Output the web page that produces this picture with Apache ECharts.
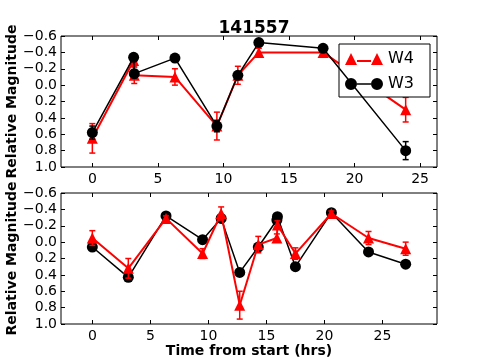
<!DOCTYPE html>
<html>
<head>
<meta charset="utf-8">
<script src="https://cdn.jsdelivr.net/npm/echarts@6/dist/echarts.min.js"></script>
<style>
  html, body { margin: 0; padding: 0; background: #fff; }
  #main { width: 485px; height: 360px; }
</style>
</head>
<body>
<div id="main"></div>
<script>
// top panel (hours from start, relative magnitudes)
var topHours = [0, 3.15, 3.2, 6.3, 9.5, 11.1, 12.7, 17.6, 23.9]
var topW4 = [0.65, -0.30, -0.12, -0.10, 0.50, -0.12, -0.40, -0.40, 0.30]
var topW4Err = [0.18, 0.07, 0.10, 0.10, 0.17, 0.11, 0.05, 0.06, 0.15]
var topW3 = [0.58, -0.34, -0.14, -0.33, 0.50, -0.12, -0.52, -0.45, 0.80]
var topW3Err = [0.08, 0.03, 0.05, 0.02, 0.07, 0.04, 0.02, 0.03, 0.11]

// bottom panel
var botHours = [0, 3.1, 6.35, 9.5, 11.1, 12.7, 14.3, 15.9, 15.95, 17.5, 20.6, 23.8, 27.0]
var botW4 = [-0.05, 0.32, -0.29, 0.14, -0.35, 0.77, 0.03, -0.05, -0.21, 0.14, -0.35, -0.05, 0.08]
var botW4Err = [0.09, 0.12, 0.03, 0.06, 0.08, 0.17, 0.10, 0.05, 0.05, 0.07, 0.03, 0.08, 0.08]
var botW3 = [0.06, 0.43, -0.32, -0.03, -0.29, 0.37, 0.06, -0.27, -0.31, 0.30, -0.36, 0.12, 0.27]
var botW3Err = [0.02, 0.02, 0.02, 0.02, 0.02, 0.02, 0.02, 0.02, 0.02, 0.02, 0.02, 0.02, 0.02]

var hourTicks = [0, 5, 10, 15, 20, 25]

var FONT = 'DejaVu Sans'

function pts(xs, ys) {
  return xs.map(function(x, i) { return [x, ys[i]] })
}
function errs(xs, ys, es) {
  return xs.map(function(x, i) { return [x, ys[i] - es[i], ys[i] + es[i]] })
}
function magLabel(v) {
  if (Math.abs(v) < 1e-9) v = 0
  return v.toFixed(1).replace('-', '\u2212')
}

// error bar drawn from the axis scales
function errBar(color, width) {
  return function(params, api) {
    var x = api.value(0)
    var a = api.coord([x, api.value(1)])
    var b = api.coord([x, api.value(2)])
    var st = { stroke: color, lineWidth: width }
    return {
      type: 'group',
      children: [
        { type: 'line', shape: { x1: a[0], y1: a[1], x2: b[0], y2: b[1] }, style: st },
        { type: 'line', shape: { x1: a[0] - 3, y1: a[1], x2: a[0] + 3, y2: a[1] }, style: st },
        { type: 'line', shape: { x1: b[0] - 3, y1: b[1], x2: b[0] + 3, y2: b[1] }, style: st }
      ]
    }
  }
}

function xAxisFor(grid, min, max, bottom) {
  return {
    type: 'value', gridIndex: grid, min: min, max: max,
    position: bottom ? 'bottom' : 'top',
    axisLine: { show: false, onZero: false },
    splitLine: { show: false },
    axisTick: { show: true, inside: true, length: 4, lineStyle: { color: '#000' }, customValues: hourTicks },
    axisLabel: { show: bottom, customValues: hourTicks, color: '#000', fontFamily: FONT, fontSize: 14, margin: 5 }
  }
}
function yAxisFor(grid, left) {
  return {
    type: 'value', gridIndex: grid, min: -0.6, max: 1.0, interval: 0.2, inverse: true,
    position: left ? 'left' : 'right',
    name: left ? 'Relative Magnitude' : '',
    nameLocation: 'middle', nameGap: 42, nameMoveOverlap: false,
    nameTextStyle: { color: '#000', fontFamily: FONT, fontSize: 14, fontWeight: 'bold' },
    axisLine: { show: false, onZero: false },
    splitLine: { show: false },
    axisTick: { show: true, inside: true, length: 4, lineStyle: { color: '#000' } },
    axisLabel: { show: left, color: '#000', fontFamily: FONT, fontSize: 14, margin: 4, formatter: magLabel }
  }
}

var w4Icon = 'path://M0 12L6 0L12 12ZM26 12L32 0L38 12ZM12 7L26 7L26 9L12 9Z'
var w3Icon = 'path://M0 6A6 6 0 1 1 12 6A6 6 0 1 1 0 6ZM26 6A6 6 0 1 1 38 6A6 6 0 1 1 26 6ZM12 5.3L26 5.3L26 6.7L12 6.7Z'

var chart = echarts.init(document.getElementById('main'))
var option = {
  animation: false,
  backgroundColor: '#fff',
  title: {
    text: '141557', left: 249, top: 15, textAlign: 'center',
    textStyle: { color: '#000', fontFamily: FONT, fontSize: 17, fontWeight: 'bold' }
  },
  legend: {
    orient: 'vertical', left: 339, top: 44,
    data: [{ name: 'W4', icon: w4Icon }, { name: 'W3', icon: w3Icon }],
    itemWidth: 38, itemHeight: 12, itemGap: 9,
    padding: [7, 16, 5, 6],
    borderColor: '#000', borderWidth: 1, backgroundColor: '#fff',
    textStyle: { color: '#000', fontFamily: FONT, fontSize: 16, lineHeight: 16 }
  },
  grid: [
    { left: 61, top: 36, width: 376, height: 131, show: true, borderColor: '#000', borderWidth: 1, backgroundColor: '#fff', containLabel: false, outerBoundsMode: 'none' },
    { left: 61, top: 193, width: 376, height: 131, show: true, borderColor: '#000', borderWidth: 1, backgroundColor: '#fff', containLabel: false, outerBoundsMode: 'none' }
  ],
  xAxis: [
    xAxisFor(0, -2.39, 26.29, true),
    xAxisFor(0, -2.39, 26.29, false),
    Object.assign(xAxisFor(1, -2.7, 29.7, true), {
      name: 'Time from start (hrs)', nameLocation: 'middle', nameGap: 16,
      nameTextStyle: { color: '#000', fontFamily: FONT, fontSize: 14, fontWeight: 'bold', verticalAlign: 'top' }
    }),
    xAxisFor(1, -2.7, 29.7, false)
  ],
  yAxis: [
    yAxisFor(0, true),
    yAxisFor(0, false),
    yAxisFor(1, true),
    yAxisFor(1, false)
  ],
  series: [
    // top: W4 under W3
    { type: 'custom', xAxisIndex: 0, yAxisIndex: 0, z: 2, renderItem: errBar('#ff0000', 1.5), data: errs(topHours, topW4, topW4Err), encode: { x: 0, y: [1, 2] } },
    { name: 'W4', type: 'line', xAxisIndex: 0, yAxisIndex: 0, z: 3, data: pts(topHours, topW4),
      symbol: 'triangle', symbolSize: 11, color: '#ff0000', lineStyle: { width: 2, color: '#ff0000' }, itemStyle: { color: '#ff0000' } },
    { type: 'custom', xAxisIndex: 0, yAxisIndex: 0, z: 4, renderItem: errBar('#000000', 1.5), data: errs(topHours, topW3, topW3Err), encode: { x: 0, y: [1, 2] } },
    { name: 'W3', type: 'line', xAxisIndex: 0, yAxisIndex: 0, z: 5, data: pts(topHours, topW3),
      symbol: 'circle', symbolSize: 11, color: '#000000', lineStyle: { width: 1.5, color: '#000' }, itemStyle: { color: '#000' } },
    // bottom: W3 under W4
    { type: 'custom', xAxisIndex: 2, yAxisIndex: 2, z: 2, renderItem: errBar('#000000', 1.5), data: errs(botHours, botW3, botW3Err), encode: { x: 0, y: [1, 2] } },
    { name: 'W3b', type: 'line', xAxisIndex: 2, yAxisIndex: 2, z: 3, data: pts(botHours, botW3),
      symbol: 'circle', symbolSize: 11, lineStyle: { width: 1.5, color: '#000' }, itemStyle: { color: '#000' } },
    { type: 'custom', xAxisIndex: 2, yAxisIndex: 2, z: 4, renderItem: errBar('#ff0000', 1.5), data: errs(botHours, botW4, botW4Err), encode: { x: 0, y: [1, 2] } },
    { name: 'W4b', type: 'line', xAxisIndex: 2, yAxisIndex: 2, z: 5, data: pts(botHours, botW4),
      symbol: 'triangle', symbolSize: 11, lineStyle: { width: 2, color: '#ff0000' }, itemStyle: { color: '#ff0000' } }
  ]
}
chart.setOption(option)
</script>
</body>
</html>
